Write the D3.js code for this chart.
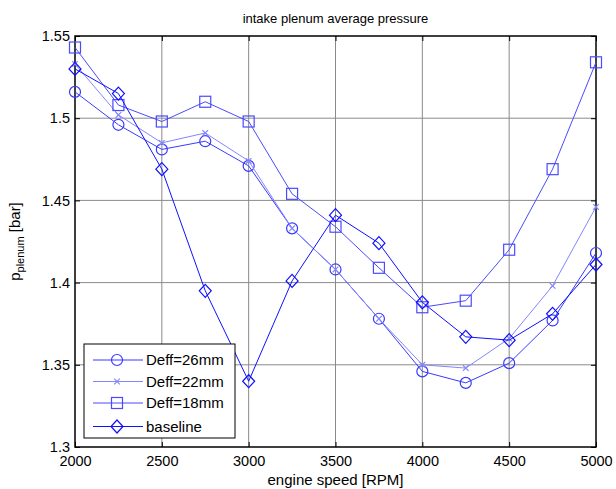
<!DOCTYPE html>
<html><head><meta charset="utf-8">
<script src="https://cdn.jsdelivr.net/npm/d3@7"></script>
<style>body{margin:0;background:#fff}svg{font-family:"Liberation Sans",Arial,sans-serif}</style>
</head><body>
<svg id="c" width="616" height="489"></svg>
<script>
const rpm = [2000,2250,2500,2750,3000,3250,3500,3750,4000,4250,4500,4750,5000];
const deff26 = [1.516,1.496,1.481,1.486,1.471,1.433,1.408,1.378,1.346,1.339,1.351,1.377,1.418];
const deff22 = [1.533,1.502,1.485,1.491,1.474,1.433,1.408,1.378,1.350,1.348,1.366,1.398,1.446];
const deff18 = [1.543,1.508,1.498,1.510,1.498,1.454,1.434,1.409,1.385,1.389,1.420,1.469,1.534];
const baseline = [1.530,1.515,1.469,1.395,1.340,1.401,1.441,1.424,1.388,1.367,1.365,1.381,1.411];
const xTicks = [2000,2500,3000,3500,4000,4500,5000];
const yTicks = [1.3,1.35,1.4,1.45,1.5,1.55];
const yTickLabels = ["1.3","1.35","1.4","1.45","1.5","1.55"];
const seriesNames = ["Deff=26mm","Deff=22mm","Deff=18mm","baseline"];

const series = [
  {name:seriesNames[0], values:deff26, marker:"circle", color:"#3a3aff"},
  {name:seriesNames[1], values:deff22, marker:"x", color:"#8585ff"},
  {name:seriesNames[2], values:deff18, marker:"square", color:"#4a4aff"},
  {name:seriesNames[3], values:baseline, marker:"diamond", color:"#1010ff"}
];

const L=75, R=596, T=36, B=447;
const svg = d3.select("#c");
const x = d3.scaleLinear().domain([2000,5000]).range([L,R]);
const y = d3.scaleLinear().domain([1.3,1.55]).range([B,T]);

// grid
const g = svg.append("g");
g.selectAll(".gx").data(xTicks.slice(1,-1)).enter().append("line")
  .attr("x1",d=>x(d)).attr("x2",d=>x(d)).attr("y1",T).attr("y2",B)
  .attr("stroke","#8a8a8a").attr("stroke-width",1);
g.selectAll(".gy").data(yTicks.slice(1,-1)).enter().append("line")
  .attr("y1",d=>y(d)).attr("y2",d=>y(d)).attr("x1",L).attr("x2",R)
  .attr("stroke","#8a8a8a").attr("stroke-width",1);

// axes
const ax = d3.axisBottom(x).tickValues(xTicks).tickSize(-5).tickPadding(9).tickFormat(d3.format("d"));
const ay = d3.axisLeft(y).tickValues(yTicks).tickSize(-5).tickPadding(5).tickFormat((d,i)=>yTickLabels[i]);
const axT = d3.axisTop(x).tickValues(xTicks).tickSize(-5).tickFormat("");
const ayR = d3.axisRight(y).tickValues(yTicks).tickSize(-5).tickFormat("");
function style(sel){
  sel.select(".domain").remove();
  sel.selectAll("line").attr("stroke","#000");
  sel.selectAll("text").attr("font-size","14.5px").attr("fill","#000").style("font-family","'Liberation Sans',Arial,sans-serif");
}
svg.append("g").attr("transform",`translate(0,${B})`).call(ax).call(style);
svg.append("g").attr("transform",`translate(${L},0)`).call(ay).call(style);
svg.append("g").attr("transform",`translate(0,${T})`).call(axT).call(style);
svg.append("g").attr("transform",`translate(${R},0)`).call(ayR).call(style);
svg.append("rect").attr("x",L).attr("y",T).attr("width",R-L).attr("height",B-T)
  .attr("fill","none").attr("stroke","#000").attr("stroke-width",1.5);

function drawMarker(sel, type, color){
  if(type==="circle") sel.append("circle").attr("r",5.5).attr("fill","none").attr("stroke",color).attr("stroke-width",1.2);
  else if(type==="square") sel.append("rect").attr("x",-5.5).attr("y",-5.5).attr("width",11).attr("height",11).attr("fill","none").attr("stroke",color).attr("stroke-width",1.2);
  else if(type==="diamond") sel.append("path").attr("d","M0,-6.5L6,0L0,6.5L-6,0Z").attr("fill","none").attr("stroke",color).attr("stroke-width",1.2);
  else if(type==="x") sel.append("path").attr("d","M-2.8,-2.8L2.8,2.8M-2.8,2.8L2.8,-2.8").attr("fill","none").attr("stroke",color).attr("stroke-width",1.2);
}

const line = d3.line().x((d,i)=>x(rpm[i])).y(d=>y(d));
series.forEach(s=>{
  svg.append("path").attr("d",line(s.values)).attr("fill","none").attr("stroke",s.color).attr("stroke-width",1);
  s.values.forEach((v,i)=>{
    const m = svg.append("g").attr("transform",`translate(${x(rpm[i])},${y(v)})`);
    drawMarker(m,s.marker,s.color);
  });
});

// legend
const lg = svg.append("g");
lg.append("rect").attr("x",84).attr("y",344).attr("width",151).attr("height",94)
  .attr("fill","#fff").attr("stroke","#000").attr("stroke-width",1);
const rowsY = [360,381.5,403,426.5];
series.forEach((s,i)=>{
  lg.append("line").attr("x1",93).attr("x2",143).attr("y1",rowsY[i]).attr("y2",rowsY[i]).attr("stroke",s.color).attr("stroke-width",1);
  const m = lg.append("g").attr("transform",`translate(117,${rowsY[i]})`);
  drawMarker(m,s.marker,s.color);
  lg.append("text").attr("x",146).attr("y",rowsY[i]).attr("dy","0.36em").attr("font-size","15px").text(s.name);
});

// title and labels
svg.append("text").attr("x",(L+R)/2).attr("y",23).attr("text-anchor","middle").attr("font-size","13px").text("intake plenum average pressure");
svg.append("text").attr("x",(L+R)/2).attr("y",485).attr("text-anchor","middle").attr("font-size","15px").text("engine speed [RPM]");
const yl = svg.append("text").attr("transform",`translate(20,${(T+B)/2}) rotate(-90)`).attr("text-anchor","middle").attr("font-size","15px");
yl.append("tspan").text("p");
yl.append("tspan").attr("font-size","11px").attr("dy","4").text("plenum");
yl.append("tspan").attr("dy","-4").text(" [bar]");
</script>
</body></html>
